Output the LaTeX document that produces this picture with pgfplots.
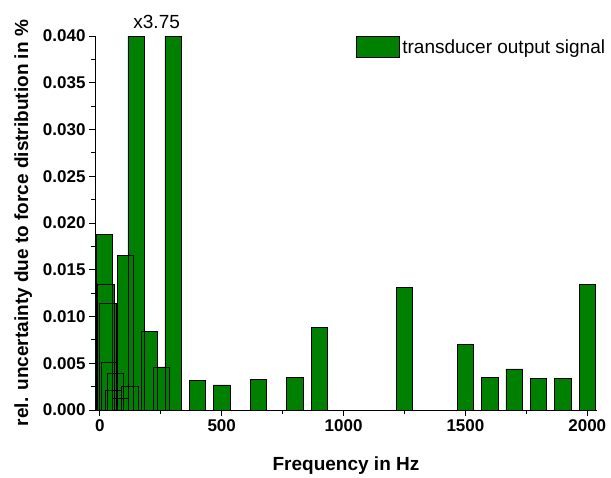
\documentclass[border=0pt]{standalone}
\usepackage{pgfplots}
\pgfplotsset{compat=1.18}
\usepackage{fontspec}
\setmainfont{Liberation Sans}
\definecolor{bargreen}{RGB}{0,128,0}
\newcommand\ticksfont{\fontsize{17bp}{20bp}\selectfont\bfseries}
\newcommand\labfont{\fontsize{19bp}{22bp}\selectfont\bfseries}
\newcommand\txtfont{\fontsize{19bp}{22bp}\selectfont}
\begin{document}
\begin{tikzpicture}
\useasboundingbox (-95bp,-68bp) rectangle (516bp,410bp);
\begin{axis}[
  at={(0,0)}, anchor=south west,
  width=502bp, height=374bp, scale only axis,
  xmin=-20, xmax=2040, ymin=0, ymax=0.04,
  axis x line*=bottom, axis y line*=left,
  axis line style={line width=0.8bp},
  clip=false,
  xtick={0,500,1000,1500,2000}, minor xtick={250,750,1250,1750},
  ytick={0,0.005,...,0.0401}, minor ytick={0.0025,0.0075,0.0125,0.0175,0.0225,0.0275,0.0325,0.0375},
  tick align=outside,
  major tick length=6bp, minor tick length=4bp,
  tick style={line width=0.8bp, black},
  scaled y ticks=false,
  yticklabel style={/pgf/number format/.cd, fixed, fixed zerofill, precision=3, assume math mode=true},
  xticklabel style={/pgf/number format/.cd, assume math mode=true, set thousands separator={}},
  ticklabel style={font=\ticksfont},
  xlabel={Frequency in Hz},
  ylabel={rel. uncertainty due to force distribution in \%},
  label style={font=\labfont},
  xlabel style={yshift=-18bp},
  ylabel style={yshift=4bp},
  legend style={at={(0.52,1)}, anchor=north west, draw=none, fill=none,
    inner sep=0pt, font=\txtfont, nodes={inner xsep=2.5bp, inner ysep=0pt}},
  legend image code/.code={\draw[fill=bargreen,draw=black,line width=0.6bp] (0bp,-10.5bp) rectangle (43bp,10.5bp);},
]
\addplot[ybar, bar width=67, fill=bargreen, draw=black, line width=0.5bp] coordinates {
  (17,0.0188) (24,0.0134) (32,0.0114) (39,0.0051) (56,0.0021) (63,0.0039)
  (84,0.00125) (105,0.0165) (123,0.0025) (148,0.04) (203,0.0084) (252,0.0046)
  (300,0.04) (400,0.0032) (500,0.0027) (650,0.0033) (800,0.0035) (900,0.0088)
  (1250,0.0131) (1500,0.0070) (1600,0.0035) (1700,0.0044) (1800,0.0034)
  (1900,0.0034) (2000,0.0134)
};
\addlegendentry{transducer output signal}
\node[anchor=base, font=\txtfont, yshift=8bp] at (axis cs:233,0.04) {x3.75};
\end{axis}
\end{tikzpicture}
\end{document}
